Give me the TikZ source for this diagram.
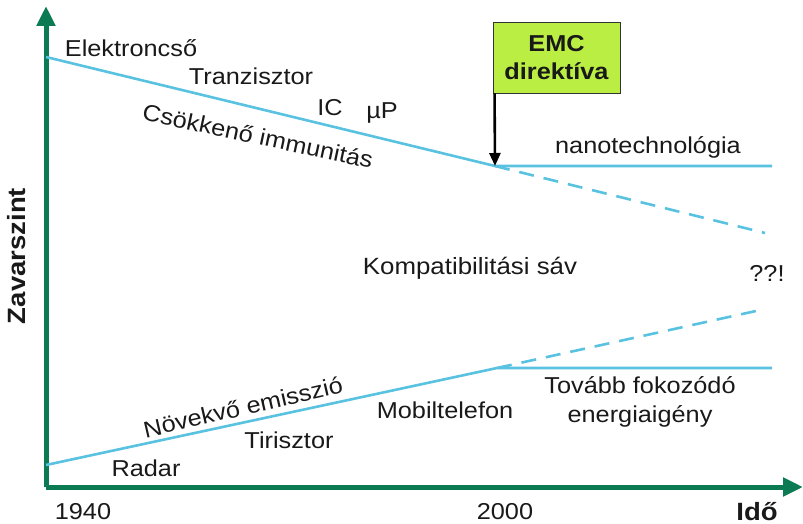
\documentclass[tikz,border=0pt]{standalone}
\usepackage{fontspec}
\setmainfont[FakeStretch=1.1]{Liberation Sans}
\usetikzlibrary{arrows.meta}
\definecolor{axisgreen}{RGB}{12,122,82}
\definecolor{levelblue}{RGB}{88,194,224}
\definecolor{boxlime}{RGB}{186,238,66}
\definecolor{txt}{RGB}{25,25,25}
\tikzset{
  axis/.style={axisgreen, line width=5pt, -{Triangle[length=20pt,width=18pt]}},
  level/.style={levelblue, line width=2.6pt},
  trend/.style={levelblue, line width=2.6pt, dash pattern=on 15pt off 10pt},
  lbl/.style={inner sep=0pt, text=txt, font=\fontsize{23}{29}\selectfont},
  blbl/.style={inner sep=0pt, text=txt, font=\fontsize{25}{28}\selectfont\bfseries},
}
\begin{document}
\begin{tikzpicture}[x=1pt,y=-1pt]
\useasboundingbox (0,0) rectangle (803,524);
% axes
\coordinate (O) at (46,487);
\coordinate (Ytop) at (46,6);
\coordinate (Xend) at (803,487);
\draw[axis] (O) -- (Ytop);
\draw[axis] (O) -- (Xend);
% immunity level
\coordinate (U0) at (46,57);
\coordinate (U1) at (495,166);
\coordinate (U2) at (772,166);
\coordinate (U3) at (765,233);
\draw[level] (U0) -- (U1) -- (U2);
\draw[trend] (U1) -- (U3);
% emission level
\coordinate (L0) at (46,465);
\coordinate (L1) at (497,368);
\coordinate (L2) at (772,368);
\coordinate (L3) at (765,309);
\draw[level] (L0) -- (L1) -- (L2);
\draw[trend] (L1) -- (L3);
% EMC directive flag
\node[draw=black!80, line width=0.9pt, fill=boxlime, minimum width=127pt, minimum height=71pt,
      inner sep=0pt, align=center, text=txt, font=\fontsize{23}{28}\selectfont\bfseries]
      (emc) at (556.5,57.5) {EMC\\direktíva};
\draw[black, line width=2.6pt, -{Triangle[length=13pt,width=11pt]}]
      ([xshift=2pt]emc.south west) -- (U1);
% labels
\node[lbl] (elek) at (131,48) {Elektroncső};
\node[lbl] (tranz) at (251,76) {Tranzisztor};
\node[lbl] (ic) at (330,108) {IC};
\node[lbl] (mup) at (382,113) {µP};
\node[lbl, rotate=-12] (csokk) at (258,136) {Csökkenő immunitás};
\node[lbl] (nano) at (648,147) {nanotechnológia};
\node[lbl, font=\fontsize{23.5}{29}\selectfont] (komp) at (470,268) {Kompatibilitási sáv};
\node[lbl] (qq) at (767,273) {??!};
\node[lbl, rotate=13] (novek) at (243,407) {Növekvő emisszió};
\node[lbl] (mobil) at (445,410) {Mobiltelefon};
\node[lbl] (tiri) at (289,440) {Tirisztor};
\node[lbl] (radar) at (146,468) {Radar};
\node[lbl, align=center] (tovabb) at (640,402) {Tovább fokozódó\\energiaigény};
\node[lbl] (y1940) at (83,512) {1940};
\node[lbl] (y2000) at (505,512) {2000};
\node[blbl] (ido) at (757,512) {Idő};
\node[blbl, rotate=90] (zavar) at (17,256) {Zavarszint};
\end{tikzpicture}
\end{document}
